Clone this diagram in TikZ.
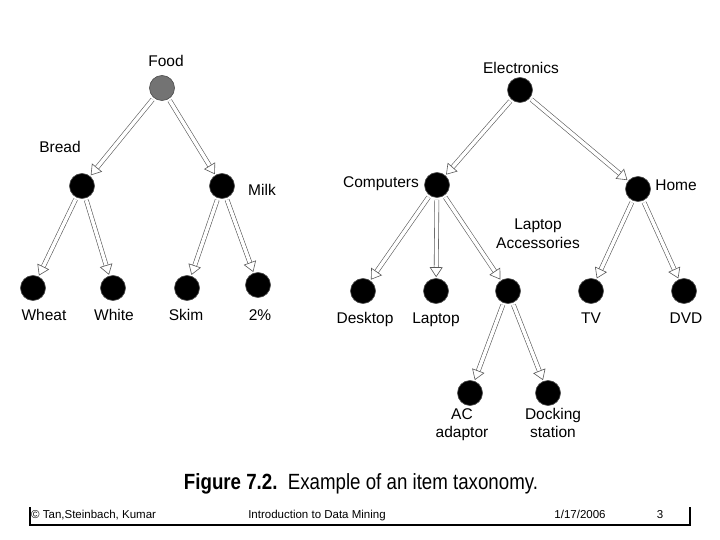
\documentclass[tikz,border=0pt]{standalone}
\usepackage{fontspec}
\setmainfont{Liberation Sans}
\usetikzlibrary{arrows.meta}
\begin{document}
\begin{tikzpicture}[x=1pt,y=-1pt,
 dot/.style={circle,fill=black,draw=black!70,line width=0.6pt,minimum size=25pt,inner sep=0pt},
 lbl/.style={font=\fontsize{15.5}{18}\selectfont,align=center,inner sep=0pt,text height=11pt,text depth=3pt,yshift=-2.5pt},
 mlbl/.style={font=\fontsize{15.5}{18.5}\selectfont,align=center,inner sep=0pt,anchor=north},
 harrow/.style={draw=black!65,line width=0.6pt,double=white,double distance=3.5pt,-{Triangle[open,length=10pt,width=13pt,fill=white]},shorten >=1pt,shorten <=2pt},
 foot/.style={font=\fontsize{11.5}{13}\selectfont,inner sep=0pt,text height=8.5pt,text depth=2.5pt}]
\useasboundingbox[fill=white] (0,0) rectangle (720,540);
\node[dot,fill=black!55] (food) at (162,88) {};
\node[dot] (bread) at (82,186) {};
\node[dot] (milk) at (222,186) {};
\node[dot] (wheat) at (33,288) {};
\node[dot] (white) at (113,288) {};
\node[dot] (skim) at (187,288) {};
\node[dot] (two) at (258,285) {};
\node[dot] (elec) at (520,90) {};
\node[dot] (comp) at (437,185) {};
\node[dot] (home) at (638,189) {};
\node[dot] (desk) at (363,291) {};
\node[dot] (lap) at (436,291) {};
\node[dot] (lacc) at (508,291) {};
\node[dot] (tv) at (591,291) {};
\node[dot] (dvd) at (684,291) {};
\node[dot] (ac) at (470,393) {};
\node[dot] (dock) at (548,393) {};
\foreach \a/\b in {food/bread,food/milk,bread/wheat,bread/white,milk/skim,milk/two,elec/comp,elec/home,comp/desk,comp/lap,comp/lacc,home/tv,home/dvd,lacc/ac,lacc/dock}
  \draw[harrow] (\a) -- (\b);
\node[lbl] (tfood) at (166,60) {Food};
\node[lbl] (tbread) at (60,146) {Bread};
\node[lbl] (tmilk) at (262,189) {Milk};
\node[lbl] (twheat) at (44,314) {Wheat};
\node[lbl] (twhite) at (114,314) {White};
\node[lbl] (tskim) at (186,314) {Skim};
\node[lbl] (ttwo) at (260,314) {2\%};
\node[lbl] (telec) at (521,67) {Electronics};
\node[lbl] (tcomp) at (381,181) {Computers};
\node[lbl] (thome) at (676,184) {Home};
\node[mlbl] (tlacc) at (538,219) {Laptop\\Accessories};
\node[lbl] (tdesk) at (365,317) {Desktop};
\node[lbl] (tlap) at (436,317) {Laptop};
\node[lbl] (ttv) at (591,317) {TV};
\node[lbl] (tdvd) at (686,317) {DVD};
\node[mlbl] (tac) at (462,408) {AC\\adaptor};
\node[mlbl] (tdock) at (553,408) {Docking\\station};
\node[inner sep=0pt,font=\fontsize{22}{25}\selectfont] (cap) at (361,484) {\addfontfeature{FakeStretch=0.85}\textbf{Figure 7.2.}\ \ Example of an item taxonomy.};
\draw[line width=1.2pt] (30,507) -- (30,525) -- (690,525) -- (690,507);
\node[foot,anchor=west] (f1) at (31,515) {© Tan,Steinbach, Kumar};
\node[foot] (f2) at (317,515) {Introduction to Data Mining};
\node[foot] (f3) at (580,515) {1/17/2006};
\node[foot] (f4) at (660,515) {3};
\end{tikzpicture}
\end{document}
